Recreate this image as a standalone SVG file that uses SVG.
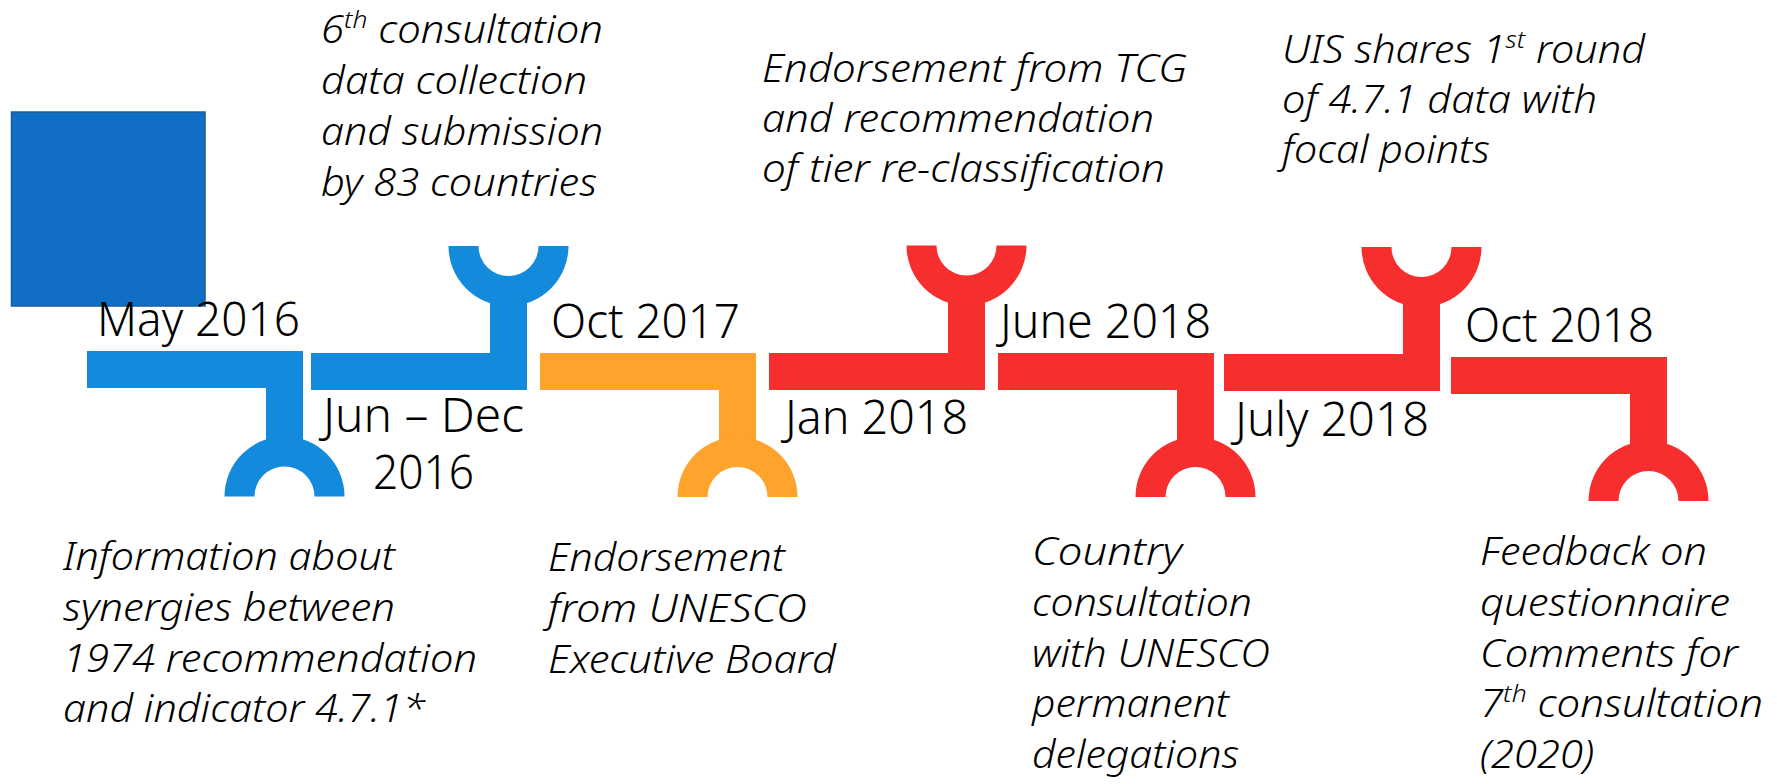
<svg xmlns="http://www.w3.org/2000/svg" width="1777" height="784" viewBox="0 0 1777 784">
<style>
.blue{fill:#148ADC}
.orange{fill:#FEA32C}
.red{fill:#F72E2E}
.date{font-family:"Noto Sans","Open Sans","Liberation Sans",sans-serif;font-size:47px;font-weight:350;fill:#000}
.desc{font-family:"Noto Sans","Open Sans","Liberation Sans",sans-serif;font-size:38px;font-style:italic;font-weight:300;fill:#000}
.sup{font-size:24px}
</style>
<rect id="legend-square" x="11.5" y="112" width="193.5" height="194" fill="#106EC4" stroke="#1A5C9E" stroke-width="1.5"/>

<g id="m1-may2016">
  <g class="blue">
    <rect x="87" y="351" width="216" height="37"/>
    <rect x="266" y="386" width="37" height="56"/>
    <path d="M224.5,496.5 A60,60 0 0 1 344.5,496.5 L314.5,496.5 A30,30 0 0 0 254.5,496.5 Z"/>
  </g>
  <text class="date" x="97" y="336" textLength="203" lengthAdjust="spacingAndGlyphs">May 2016</text>
  <g class="desc">
    <text x="63" y="570" textLength="332" lengthAdjust="spacingAndGlyphs">Information about</text>
    <text x="63" y="621" textLength="332" lengthAdjust="spacingAndGlyphs">synergies between</text>
    <text x="63" y="672" textLength="414" lengthAdjust="spacingAndGlyphs">1974 recommendation</text>
    <text x="63" y="722" textLength="362" lengthAdjust="spacingAndGlyphs">and indicator 4.7.1*</text>
  </g>
</g>

<g id="m2-jun-dec2016">
  <g class="blue">
    <rect x="311" y="353" width="216" height="37"/>
    <rect x="490" y="298" width="37" height="57"/>
    <path d="M448.5,246 A60,60 0 0 0 568.5,246 L538.5,246 A30,30 0 0 1 478.5,246 Z"/>
  </g>
  <text class="date"><tspan x="323" y="432" textLength="201" lengthAdjust="spacingAndGlyphs">Jun – Dec</tspan><tspan x="373" y="489" textLength="101" lengthAdjust="spacingAndGlyphs">2016</tspan></text>
  <g class="desc">
    <text x="321" y="43" textLength="282" lengthAdjust="spacingAndGlyphs">6<tspan class="sup" dy="-15">th</tspan><tspan dy="15"> consultation</tspan></text>
    <text x="321" y="94" textLength="266" lengthAdjust="spacingAndGlyphs">data collection</text>
    <text x="321" y="145" textLength="282" lengthAdjust="spacingAndGlyphs">and submission</text>
    <text x="321" y="196" textLength="276" lengthAdjust="spacingAndGlyphs">by 83 countries</text>
  </g>
</g>

<g id="m3-oct2017">
  <g class="orange">
    <rect x="540" y="353" width="216" height="37"/>
    <rect x="719" y="388" width="37" height="54"/>
    <path d="M677.5,497 A60,60 0 0 1 797.5,497 L767.5,497 A30,30 0 0 0 707.5,497 Z"/>
  </g>
  <text class="date" x="551" y="338" textLength="189" lengthAdjust="spacingAndGlyphs">Oct 2017</text>
  <g class="desc">
    <text x="548" y="571" textLength="237" lengthAdjust="spacingAndGlyphs">Endorsement</text>
    <text x="548" y="622" textLength="259" lengthAdjust="spacingAndGlyphs">from UNESCO</text>
    <text x="548" y="673" textLength="288" lengthAdjust="spacingAndGlyphs">Executive Board</text>
  </g>
</g>

<g id="m4-jan2018">
  <g class="red">
    <rect x="769" y="353" width="216" height="37"/>
    <rect x="948" y="298" width="37" height="57"/>
    <path d="M906.5,245.5 A60,60 0 0 0 1026.5,245.5 L996.5,245.5 A30,30 0 0 1 936.5,245.5 Z"/>
  </g>
  <text class="date" x="785" y="434" textLength="183" lengthAdjust="spacingAndGlyphs">Jan 2018</text>
  <g class="desc">
    <text x="762" y="82" textLength="425" lengthAdjust="spacingAndGlyphs">Endorsement from TCG</text>
    <text x="762" y="132" textLength="392" lengthAdjust="spacingAndGlyphs">and recommendation</text>
    <text x="762" y="182" textLength="403" lengthAdjust="spacingAndGlyphs">of tier re-classification</text>
  </g>
</g>

<g id="m5-june2018">
  <g class="red">
    <rect x="998" y="353" width="216" height="37"/>
    <rect x="1177" y="388" width="37" height="54"/>
    <path d="M1135.5,497 A60,60 0 0 1 1255.5,497 L1225.5,497 A30,30 0 0 0 1165.5,497 Z"/>
  </g>
  <text class="date" x="1000" y="338" textLength="211" lengthAdjust="spacingAndGlyphs">June 2018</text>
  <g class="desc">
    <text x="1032" y="565" textLength="150" lengthAdjust="spacingAndGlyphs">Country</text>
    <text x="1032" y="616" textLength="220" lengthAdjust="spacingAndGlyphs">consultation</text>
    <text x="1032" y="667" textLength="238" lengthAdjust="spacingAndGlyphs">with UNESCO</text>
    <text x="1032" y="717" textLength="197" lengthAdjust="spacingAndGlyphs">permanent</text>
    <text x="1032" y="768" textLength="207" lengthAdjust="spacingAndGlyphs">delegations</text>
  </g>
</g>

<g id="m6-july2018">
  <g class="red">
    <rect x="1224" y="354" width="216" height="37"/>
    <rect x="1403" y="299" width="37" height="57"/>
    <path d="M1361.5,247 A60,60 0 0 0 1481.5,247 L1451.5,247 A30,30 0 0 1 1391.5,247 Z"/>
  </g>
  <text class="date" x="1235" y="436" textLength="194" lengthAdjust="spacingAndGlyphs">July 2018</text>
  <g class="desc">
    <text x="1282" y="63" textLength="363" lengthAdjust="spacingAndGlyphs">UIS shares 1<tspan class="sup" dy="-15">st</tspan><tspan dy="15"> round</tspan></text>
    <text x="1282" y="113" textLength="315" lengthAdjust="spacingAndGlyphs">of 4.7.1 data with</text>
    <text x="1282" y="163" textLength="208" lengthAdjust="spacingAndGlyphs">focal points</text>
  </g>
</g>

<g id="m7-oct2018">
  <g class="red">
    <rect x="1451" y="357" width="216" height="37"/>
    <rect x="1630" y="392" width="37" height="54"/>
    <path d="M1588.5,501 A60,60 0 0 1 1708.5,501 L1678.5,501 A30,30 0 0 0 1618.5,501 Z"/>
  </g>
  <text class="date" x="1465" y="342" textLength="189" lengthAdjust="spacingAndGlyphs">Oct 2018</text>
  <g class="desc">
    <text x="1480" y="565" textLength="227" lengthAdjust="spacingAndGlyphs">Feedback on</text>
    <text x="1480" y="616" textLength="250" lengthAdjust="spacingAndGlyphs">questionnaire</text>
    <text x="1480" y="667" textLength="258" lengthAdjust="spacingAndGlyphs">Comments for</text>
    <text x="1480" y="717" textLength="283" lengthAdjust="spacingAndGlyphs">7<tspan class="sup" dy="-15">th</tspan><tspan dy="15"> consultation</tspan></text>
    <text x="1480" y="768" textLength="114" lengthAdjust="spacingAndGlyphs">(2020)</text>
  </g>
</g>
</svg>
